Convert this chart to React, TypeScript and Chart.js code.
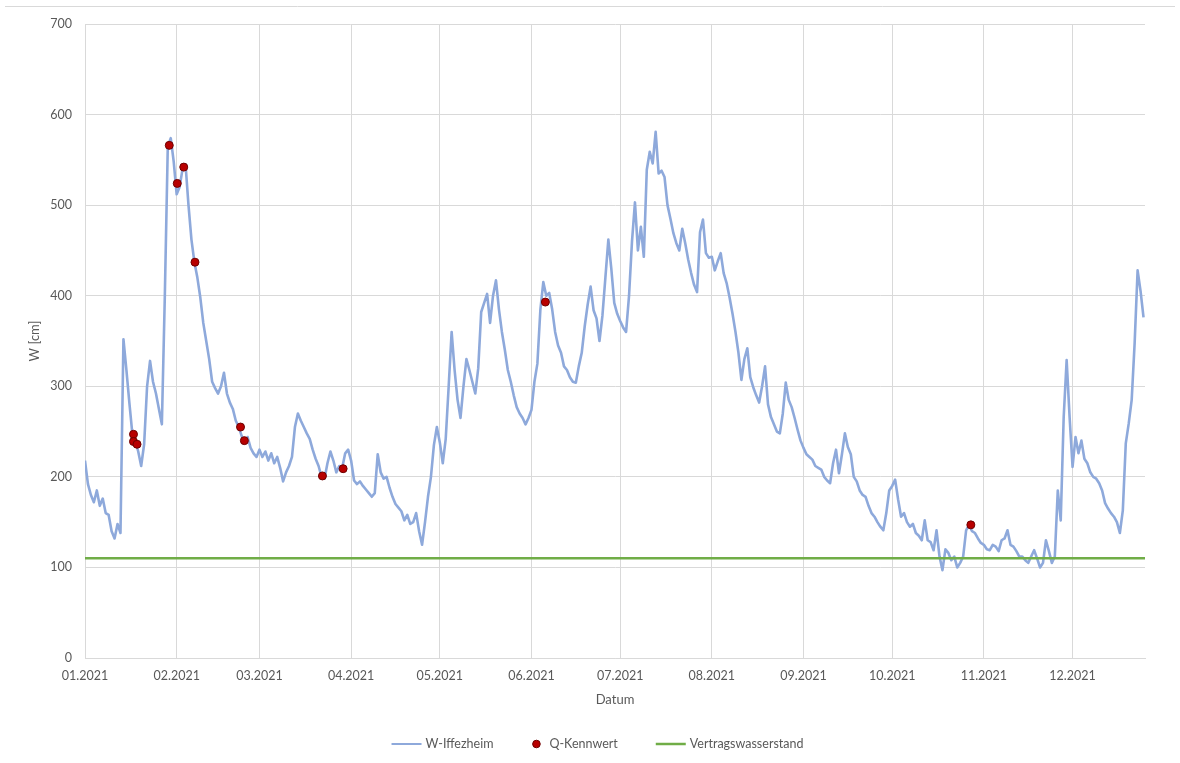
import { useEffect, useRef } from 'react';
import { Chart, registerables } from 'chart.js';

Chart.register(...registerables);

// Month start positions (day of year 2021) and their tick labels
const monthStarts = [0, 31, 59, 90, 120, 151, 181, 212, 243, 273, 304, 334];
const monthLabels = ['01.2021', '02.2021', '03.2021', '04.2021', '05.2021', '06.2021', '07.2021', '08.2021', '09.2021', '10.2021', '11.2021', '12.2021'];
const xMax = 358.5;
const yTicks = [0, 100, 200, 300, 400, 500, 600, 700];

// W-Iffezheim daily water level [cm], index = day of year (from 01.01.2021)
const wJan = [218, 192, 180, 172, 185, 168, 176, 160, 158, 140, 132, 148, 138, 352, 318, 282, 248, 240, 228, 212, 236, 300, 328, 305, 292, 275, 258, 400, 565, 574, 548];
const wFeb = [512, 520, 540, 545, 500, 462, 437, 420, 398, 370, 350, 330, 305, 298, 292, 300, 315, 292, 282, 275, 262, 255, 245, 238, 244, 232, 226, 222];
const wMar = [230, 222, 228, 218, 226, 215, 222, 210, 195, 205, 212, 222, 255, 270, 262, 255, 248, 242, 230, 220, 212, 200, 198, 215, 228, 218, 205, 212, 210, 226, 230];
const wApr = [218, 196, 192, 195, 190, 186, 182, 178, 182, 225, 205, 198, 200, 188, 178, 170, 166, 162, 152, 158, 148, 150, 160, 140, 125, 150, 178, 200, 235, 255];
const wMay = [238, 215, 242, 300, 360, 318, 285, 265, 300, 330, 318, 305, 292, 320, 382, 392, 402, 370, 400, 417, 385, 360, 340, 318, 305, 290, 277, 270, 265, 258, 265];
const wJun = [274, 305, 325, 384, 415, 400, 403, 385, 360, 345, 337, 322, 318, 310, 305, 304, 322, 337, 366, 390, 410, 384, 375, 350, 378, 420, 462, 430, 392, 380];
const wJul = [372, 365, 360, 400, 460, 503, 450, 476, 443, 539, 559, 546, 581, 535, 538, 531, 500, 485, 469, 458, 450, 474, 458, 440, 425, 412, 404, 470, 484, 447, 442];
const wAug = [443, 428, 438, 447, 425, 414, 398, 380, 360, 337, 307, 330, 342, 310, 299, 290, 282, 300, 322, 280, 266, 258, 250, 248, 270, 304, 285, 277, 265, 252, 240];
const wSep = [232, 225, 222, 219, 212, 210, 208, 200, 196, 193, 215, 230, 204, 225, 248, 233, 225, 200, 195, 185, 180, 178, 168, 160, 156, 150, 145, 141, 160, 185];
const wOct = [190, 197, 175, 156, 160, 150, 145, 148, 138, 135, 130, 152, 130, 128, 119, 141, 112, 97, 120, 116, 108, 112, 100, 105, 112, 141, 147, 140, 138, 132, 127];
const wNov = [125, 120, 119, 125, 123, 118, 130, 132, 141, 125, 123, 118, 112, 112, 108, 105, 112, 119, 110, 100, 105, 130, 118, 105, 112, 185, 152, 266, 329, 266];
const wDec = [211, 244, 226, 240, 220, 215, 205, 200, 198, 193, 185, 171, 165, 160, 156, 150, 138, 163, 237, 259, 285, 348, 428, 405, 376];
const wValues = [...wJan, ...wFeb, ...wMar, ...wApr, ...wMay, ...wJun, ...wJul, ...wAug, ...wSep, ...wOct, ...wNov, ...wDec];

// Q-Kennwert markers (day of year, W [cm])
const qDays = [16.4, 16.4, 17.6, 28.5, 31.2, 33.4, 37.2, 52.6, 53.9, 80.3, 87.3, 155.7, 299.6];
const qValues = [247, 239, 236, 566, 524, 542, 437, 255, 240, 201, 209, 393, 147];

// Vertragswasserstand [cm]
const vertragsLevel = 110;

const seriesLabels = ['W-Iffezheim', 'Q-Kennwert', 'Vertragswasserstand'];
const blue = '#8EA9DB';
const green = '#70AD47';
const red = '#B80000';
const textGray = '#595959';
const gridGray = '#D9D9D9';
const fontFamily = 'Lato, "Open Sans", sans-serif';

const customLegend = {
  id: 'customLegend',
  beforeDraw(chart: any) {
    const ctx = chart.ctx;
    ctx.save();
    ctx.strokeStyle = gridGray;
    ctx.lineWidth = 1;
    ctx.beginPath();
    ctx.moveTo(5, 6.5);
    ctx.lineTo(1175, 6.5);
    ctx.stroke();
    ctx.restore();
  },
  afterDraw(chart: any) {
    const ctx = chart.ctx;
    ctx.save();
    ctx.font = `12.5px ${fontFamily}`;
    ctx.textBaseline = 'middle';
    ctx.fillStyle = textGray;
    const y = 744;
    const lineLen = 30;
    const gap = 4;
    const itemGap = 38;
    const kinds = ['line', 'point', 'line'];
    const colors = [blue, red, green];
    const widths = seriesLabels.map((l, i) => (kinds[i] === 'line' ? lineLen : 14) + gap + ctx.measureText(l).width);
    const total = widths.reduce((a, b) => a + b, 0) + itemGap * (widths.length - 1);
    let x = 597.5 - total / 2;
    seriesLabels.forEach((label, i) => {
      if (kinds[i] === 'line') {
        ctx.strokeStyle = colors[i];
        ctx.lineWidth = i === 2 ? 2.5 : 2;
        ctx.beginPath();
        ctx.moveTo(x, y);
        ctx.lineTo(x + lineLen, y);
        ctx.stroke();
        x += lineLen + gap;
      } else {
        ctx.fillStyle = red;
        ctx.strokeStyle = '#6E0000';
        ctx.lineWidth = 1;
        ctx.beginPath();
        ctx.arc(x + 5, y, 3.8, 0, Math.PI * 2);
        ctx.fill();
        ctx.stroke();
        x += 14 + gap;
      }
      ctx.fillStyle = textGray;
      ctx.fillText(label, x, y);
      x += ctx.measureText(label).width + itemGap;
    });
    ctx.restore();
  },
};

export default function App() {
  const ref = useRef<HTMLCanvasElement>(null);
  useEffect(() => {
    if (!ref.current) return;
    const wData = wValues.map((v, i) => ({ x: i, y: v }));
    const qData = qDays.map((d, i) => ({ x: d, y: qValues[i] }));
    const vData = [{ x: 0, y: vertragsLevel }, { x: xMax, y: vertragsLevel }];
    const chart = new Chart(ref.current, {
      type: 'line',
      data: {
        datasets: [
          {
            label: seriesLabels[0],
            data: wData,
            borderColor: blue,
            backgroundColor: blue,
            borderWidth: 2.6,
            borderJoinStyle: 'round',
            pointRadius: 0,
            tension: 0,
            order: 3,
          },
          {
            label: seriesLabels[1],
            data: qData,
            showLine: false,
            pointRadius: 4,
            pointBackgroundColor: red,
            pointBorderColor: '#6E0000',
            pointBorderWidth: 1,
            order: 1,
          },
          {
            label: seriesLabels[2],
            data: vData,
            borderColor: green,
            backgroundColor: green,
            borderWidth: 2.5,
            pointRadius: 0,
            order: 2,
          },
        ],
      },
      options: {
        responsive: false,
        animation: false,
        events: [],
        layout: { padding: { left: 0, right: 35, top: 24, bottom: 55 } },
        plugins: {
          legend: { display: false },
          tooltip: { enabled: false },
        },
        scales: {
          x: {
            type: 'linear',
            min: 0,
            max: xMax,
            afterBuildTicks: (scale: any) => {
              scale.ticks = monthStarts.map((v) => ({ value: v }));
            },
            afterFit: (scale: any) => {
              scale.height = 50;
            },
            ticks: {
              autoSkip: false,
              maxRotation: 0,
              padding: 10,
              color: textGray,
              font: { family: fontFamily, size: 12.5 },
              callback: (_v: any, i: number) => monthLabels[i],
            },
            grid: { color: gridGray, lineWidth: 1, drawTicks: false },
            border: { color: gridGray },
            title: {
              display: true,
              text: 'Datum',
              color: textGray,
              font: { family: fontFamily, size: 13 },
              padding: { top: 0, bottom: 0 },
            },
          },
          y: {
            min: 0,
            max: 700,
            afterBuildTicks: (scale: any) => {
              scale.ticks = yTicks.map((v) => ({ value: v }));
            },
            afterFit: (scale: any) => {
              scale.width = 85;
            },
            ticks: {
              padding: 13,
              color: textGray,
              font: { family: fontFamily, size: 12.5 },
            },
            grid: { color: gridGray, lineWidth: 1, drawTicks: false },
            border: { color: gridGray },
            title: {
              display: true,
              text: 'W [cm]',
              color: textGray,
              font: { family: fontFamily, size: 13 },
              padding: { top: 27, bottom: 0 },
            },
          },
        },
      },
      plugins: [customLegend],
    });
    return () => chart.destroy();
  }, []);
  return (
    <div style={{ position: 'fixed', left: 0, top: 0, width: 1180, height: 763, background: '#fff' }}>
      <canvas ref={ref} width={1180} height={763} style={{ display: 'block', width: 1180, height: 763 }} />
    </div>
  );
}
